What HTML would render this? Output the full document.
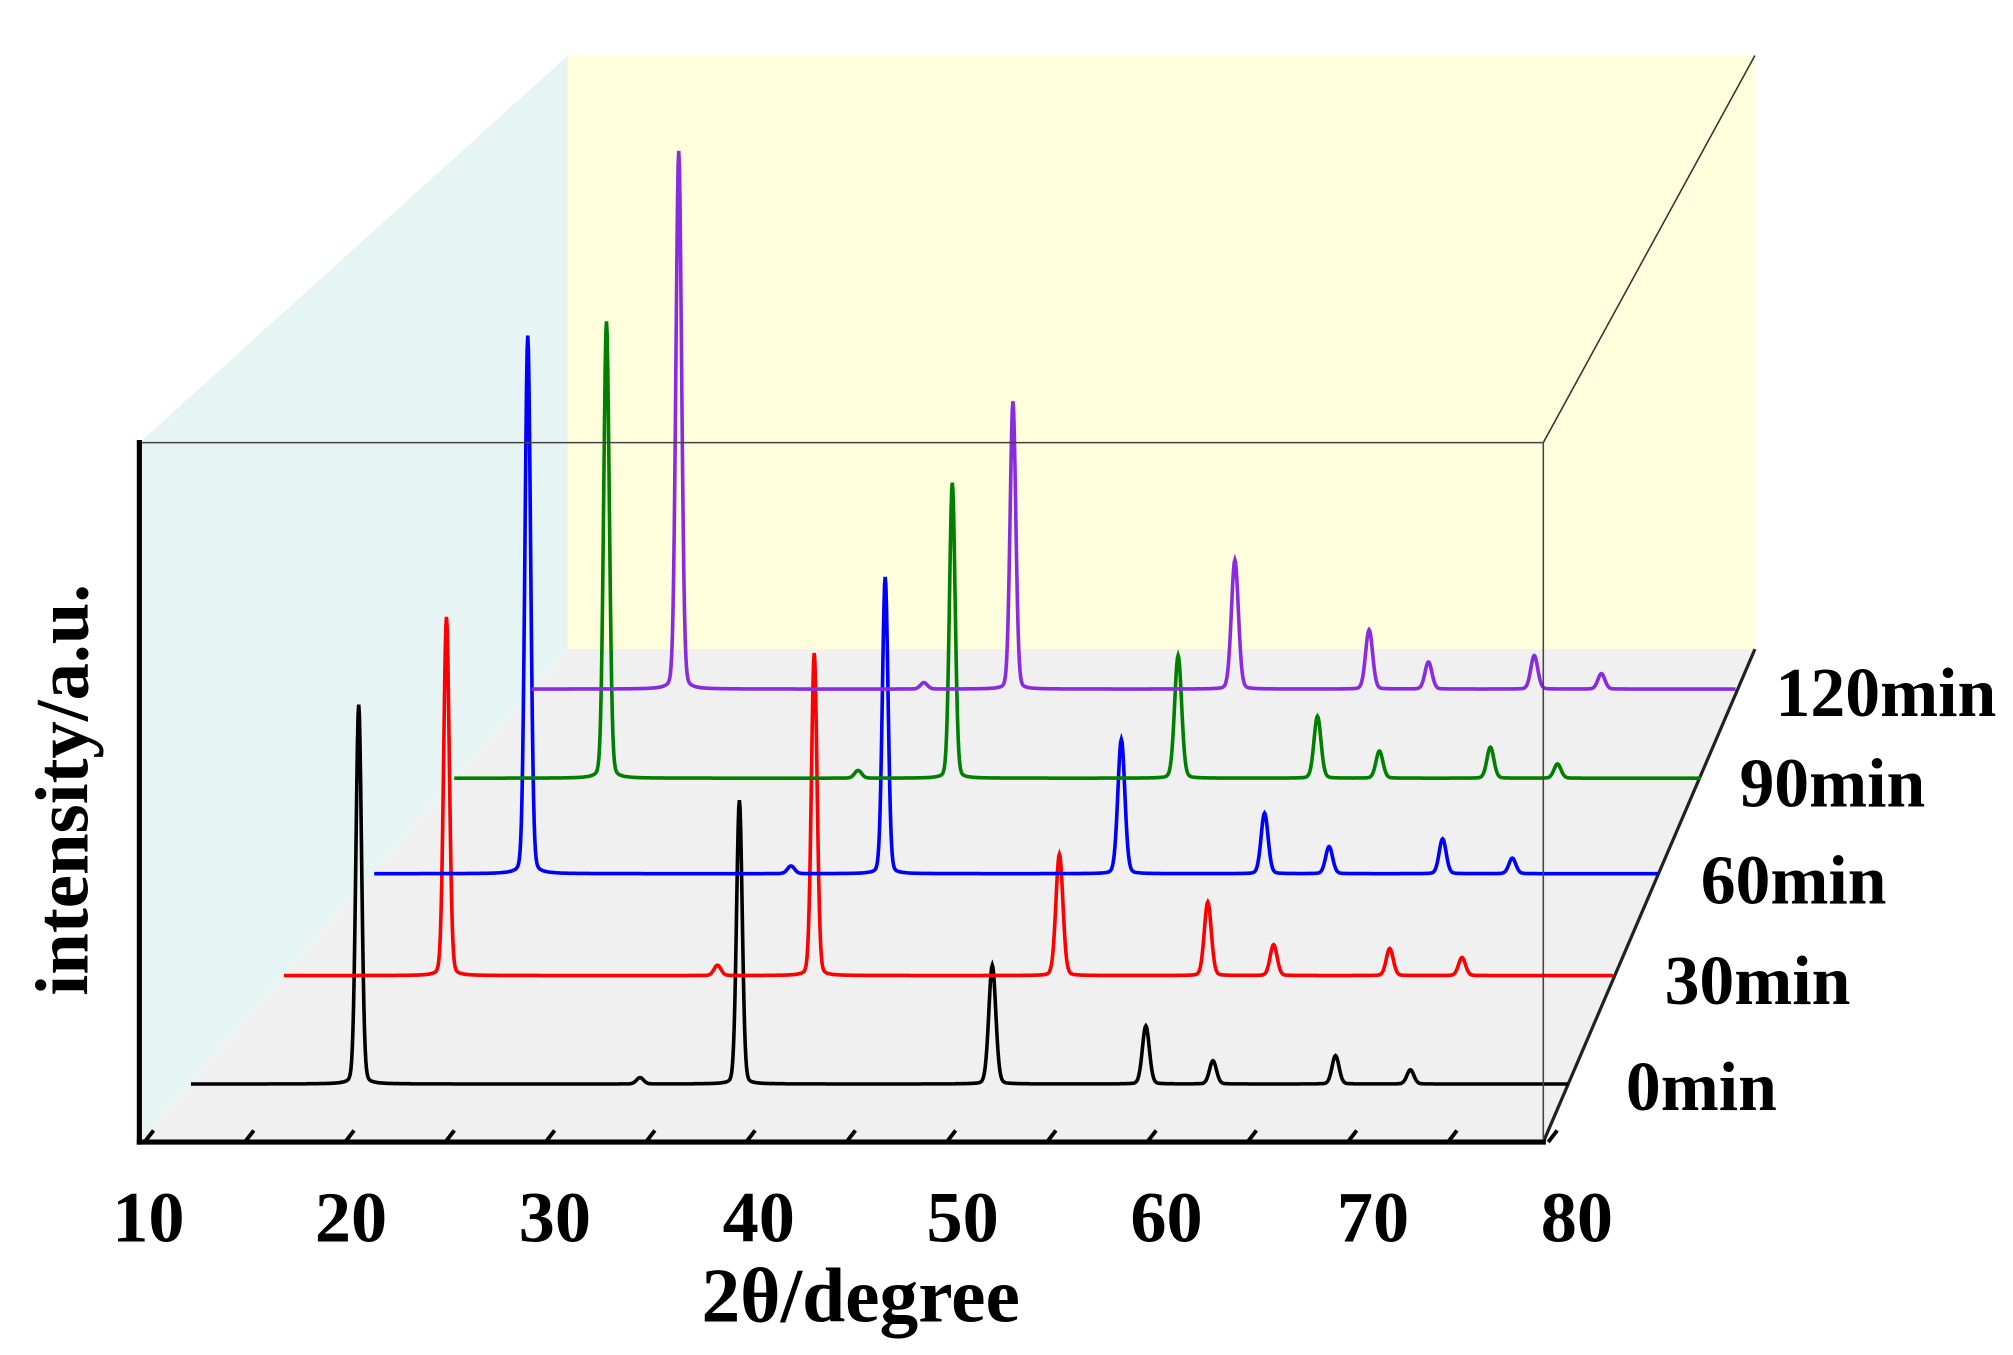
<!DOCTYPE html>
<html><head><meta charset="utf-8"><style>
html,body{margin:0;padding:0;background:#fff;}
svg{display:block}
text{font-family:"Liberation Serif",serif;font-weight:bold;fill:#000}
</style></head><body>
<svg id="s" width="2013" height="1355" viewBox="0 0 1560 1050" preserveAspectRatio="none" xmlns="http://www.w3.org/2000/svg">
<rect x="440" y="43" width="920" height="460" fill="#fefedc"/>
<polygon points="108,343 440,43 440,503 108,885" fill="#e6f5f4"/>
<polygon points="108,885 440,503 1360,503 1196,885" fill="#f0f0f0"/>
<line x1="1196" y1="343" x2="1360" y2="43" stroke="#333" stroke-width="1.2"/>
<line x1="1196" y1="885" x2="1360" y2="503" stroke="#222" stroke-width="2.5"/>
<g id="series"></g>
<line x1="108" y1="343" x2="1196" y2="343" stroke="#444" stroke-width="1.2"/>
<line x1="1196" y1="343" x2="1196" y2="885" stroke="#444" stroke-width="1.2"/>
<line x1="108" y1="341" x2="108" y2="887" stroke="#000" stroke-width="4"/>
<line x1="106" y1="885" x2="1198" y2="885" stroke="#000" stroke-width="4"/>
<g id="ticks" stroke="#000" stroke-width="3"></g>
<g font-size="56" text-anchor="middle">
<text x="115" y="962">10</text><text x="272" y="962">20</text><text x="430" y="962">30</text>
<text x="588" y="962">40</text><text x="746" y="962">50</text><text x="904" y="962">60</text>
<text x="1064" y="962">70</text><text x="1222" y="962">80</text>
<text x="667" y="1024" font-size="60">2θ/degree</text>
<text transform="translate(68,612) rotate(-90)" font-size="58">intensity/a.u.</text>
</g>
<g font-size="54">
<text x="1260" y="860">0min</text><text x="1290" y="778">30min</text>
<text x="1318" y="700">60min</text><text x="1348" y="625">90min</text>
<text x="1376" y="555">120min</text>
</g>
</svg>
<script>
var S=[
 ["#000000",840,148,1215,[[278,546],[496,835],[573,620],[769,748],[888,795],[940,822],[1035,818],[1093,829]]],
 ["#ff0000",756,220,1250,[[346,478],[556,748],[631,506],[821,662],[936,699],[987,732],[1077,735],[1133,742]]],
 ["#0000ff",677,290,1285,[[409,260],[613,671],[686,447],[869,573],[980,630],[1030,656],[1118,650],[1172,665]]],
 ["#008000",603,352,1318,[[470,249],[665,597],[738,374],[913,508],[1021,555],[1069,582],[1155,579],[1207,592]]],
 ["#8a2be2",534,412,1345,[[526,117],[716,529],[785,311],[957,434],[1061,488],[1107,513],[1189,508],[1241,522]]]
];
var g=document.getElementById('series'),ns="http://www.w3.org/2000/svg";
S.forEach(function(s){
 var d="";
 for(var x=s[2];x<=s[3];x+=0.5){
  var y=s[1];
  s[4].forEach(function(p){var h=s[1]-p[1];var w=h>150?2.6:3.2;var t=(x-p[0])/w;
   y-=h*(0.88*Math.exp(-t*t*0.693)+0.12/(1+t*t));});
  d+=(d?"L":"M")+x.toFixed(1)+" "+y.toFixed(1);
 }
 var e=document.createElementNS(ns,"path");e.setAttribute("d",d);e.setAttribute("fill","none");
 e.setAttribute("stroke",s[0]);e.setAttribute("stroke-width","2.8");g.appendChild(e);
});
var tk=document.getElementById('ticks');
for(var i=0;i<15;i++){var x=115+i*77.7;var l=document.createElementNS(ns,"line");
 l.setAttribute("x1",x-3);l.setAttribute("y1",885);l.setAttribute("x2",x+4);l.setAttribute("y2",876);tk.appendChild(l);}
</script>
</body></html>
